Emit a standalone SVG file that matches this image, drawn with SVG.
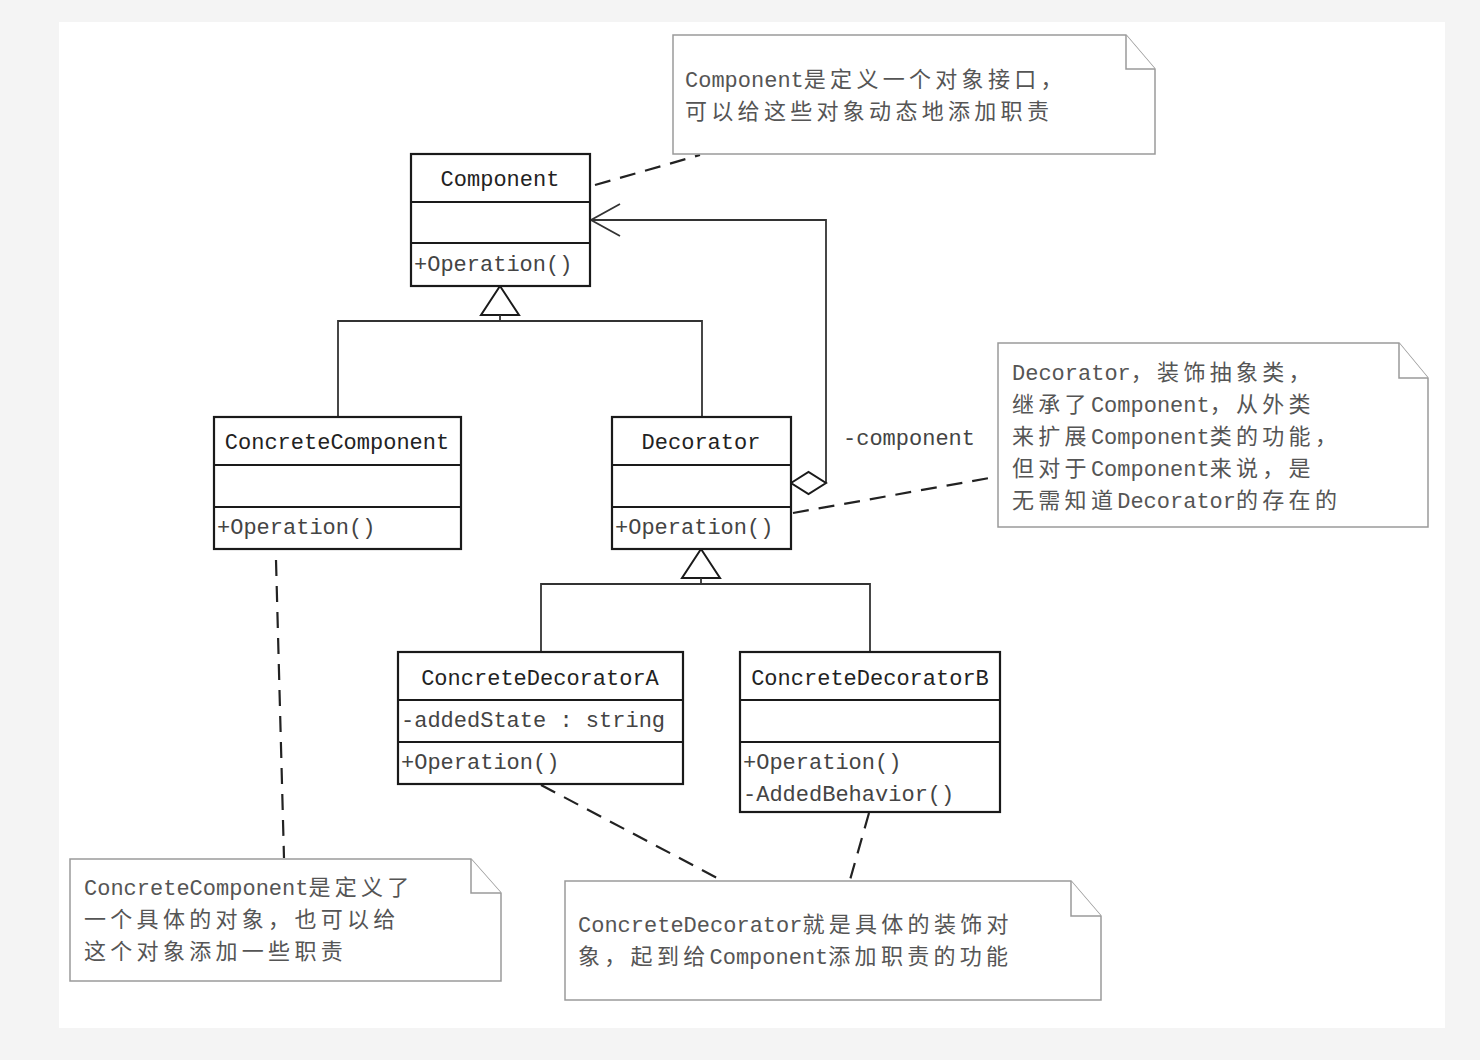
<svg xmlns="http://www.w3.org/2000/svg" width="1480" height="1060" viewBox="0 0 1480 1060">
<style>
.box{fill:#fff;stroke:#1a1a1a;stroke-width:2.2}
.div{stroke:#1a1a1a;stroke-width:2}
.line{fill:none;stroke:#333;stroke-width:1.8}
.dash{fill:none;stroke:#222;stroke-width:2.2;stroke-dasharray:16 10}
.note{fill:#fff;stroke:#9a9a9a;stroke-width:1.5}
.t{font-family:"Liberation Mono",monospace;font-size:22px;fill:#333}
.name{fill:#222;text-anchor:middle}
.mem{fill:#444}
.nt{fill:#555}
.c{font-family:"Noto Sans CJK SC",sans-serif;font-size:22px;letter-spacing:4.3px;fill:#555}
</style>
<rect x="0" y="0" width="1480" height="1060" fill="#f4f4f4"/>
<rect x="59" y="22" width="1386" height="1006" fill="#fff"/>

<g id="connectors">
  <line class="dash" x1="595" y1="185" x2="700" y2="155"/>
  <polyline class="line" points="826,483 826,220 591,220"/>
  <polyline class="line" points="620,204 591,220 620,236" stroke-width="2"/>
  <polygon points="500,286 481,315 519,315" fill="#fff" stroke="#1a1a1a" stroke-width="2"/>
  <polyline class="line" points="500,315 500,321"/>
  <polyline class="line" points="338,417 338,321 702,321 702,417"/>
  <polygon points="791,483 808.5,472 826,483 808.5,494" fill="#fff" stroke="#1a1a1a" stroke-width="2"/>
  <text class="t mem" x="843" y="445">-component</text>
  <line class="dash" x1="793" y1="513" x2="995" y2="477"/>
  <polygon points="701,549 682,578 720,578" fill="#fff" stroke="#1a1a1a" stroke-width="2"/>
  <polyline class="line" points="701,578 701,584"/>
  <polyline class="line" points="541,652 541,584 870,584 870,652"/>
  <line class="dash" x1="276" y1="560" x2="284" y2="858"/>
  <line class="dash" x1="541" y1="785" x2="721" y2="880"/>
  <line class="dash" x1="869" y1="813" x2="850" y2="880"/>
</g>

<g id="note-component">
  <path class="note" d="M673,35 H1126 L1155,69 V154 H673 Z"/>
  <path class="note" d="M1126,35 V69 H1155" fill="none"/>
  <text class="t nt" x="685" y="87">Component</text>
  <text class="c" x="803.8" y="87">是定义一个对象接口，</text>
  <text class="c" x="685" y="119">可以给这些对象动态地添加职责</text>
</g>

<g id="component">
  <rect class="box" x="411" y="154" width="179" height="132"/>
  <line class="div" x1="411" y1="202" x2="590" y2="202"/>
  <line class="div" x1="411" y1="243" x2="590" y2="243"/>
  <text class="t name" x="500" y="186">Component</text>
  <text class="t mem" x="414" y="271">+Operation()</text>
</g>

<g id="concrete-component">
  <rect class="box" x="214" y="417" width="247" height="132"/>
  <line class="div" x1="214" y1="465" x2="461" y2="465"/>
  <line class="div" x1="214" y1="507" x2="461" y2="507"/>
  <text class="t name" x="337" y="449">ConcreteComponent</text>
  <text class="t mem" x="217" y="534">+Operation()</text>
</g>

<g id="decorator">
  <rect class="box" x="612" y="417" width="179" height="132"/>
  <line class="div" x1="612" y1="465" x2="791" y2="465"/>
  <line class="div" x1="612" y1="507" x2="791" y2="507"/>
  <text class="t name" x="701" y="449">Decorator</text>
  <text class="t mem" x="615" y="534">+Operation()</text>
</g>

<g id="note-decorator">
  <path class="note" d="M998,343 H1399 L1428,378 V527 H998 Z"/>
  <path class="note" d="M1399,343 V378 H1428" fill="none"/>
  <text class="t nt" x="1012" y="380">Decorator</text>
  <text class="c" x="1130.8" y="380">，装饰抽象类，</text>
  <text class="c" x="1012" y="412">继承了</text>
  <text class="t nt" x="1090.9" y="412">Component</text>
  <text class="c" x="1209.7" y="412">，从外类</text>
  <text class="c" x="1012" y="444">来扩展</text>
  <text class="t nt" x="1090.9" y="444">Component</text>
  <text class="c" x="1209.7" y="444">类的功能，</text>
  <text class="c" x="1012" y="476">但对于</text>
  <text class="t nt" x="1090.9" y="476">Component</text>
  <text class="c" x="1209.7" y="476">来说，是</text>
  <text class="c" x="1012" y="508">无需知道</text>
  <text class="t nt" x="1117.2" y="508">Decorator</text>
  <text class="c" x="1236" y="508">的存在的</text>
</g>

<g id="concrete-decorator-a">
  <rect class="box" x="398" y="652" width="285" height="132"/>
  <line class="div" x1="398" y1="700" x2="683" y2="700"/>
  <line class="div" x1="398" y1="742" x2="683" y2="742"/>
  <text class="t name" x="540" y="685">ConcreteDecoratorA</text>
  <text class="t mem" x="401" y="727">-addedState : string</text>
  <text class="t mem" x="401" y="769">+Operation()</text>
</g>

<g id="concrete-decorator-b">
  <rect class="box" x="740" y="652" width="260" height="160"/>
  <line class="div" x1="740" y1="700" x2="1000" y2="700"/>
  <line class="div" x1="740" y1="742" x2="1000" y2="742"/>
  <text class="t name" x="870" y="685">ConcreteDecoratorB</text>
  <text class="t mem" x="743" y="769">+Operation()</text>
  <text class="t mem" x="743" y="801">-AddedBehavior()</text>
</g>

<g id="note-concrete-component">
  <path class="note" d="M70,859 H471 L501,893 V981 H70 Z"/>
  <path class="note" d="M471,859 V893 H501" fill="none"/>
  <text class="t nt" x="84" y="895">ConcreteComponent</text>
  <text class="c" x="308.4" y="895">是定义了</text>
  <text class="c" x="84" y="927">一个具体的对象，也可以给</text>
  <text class="c" x="84" y="959">这个对象添加一些职责</text>
</g>

<g id="note-concrete-decorator">
  <path class="note" d="M565,881 H1071 L1101,916 V1000 H565 Z"/>
  <path class="note" d="M1071,881 V916 H1101" fill="none"/>
  <text class="t nt" x="578" y="932">ConcreteDecorator</text>
  <text class="c" x="802.4" y="932">就是具体的装饰对</text>
  <text class="c" x="578" y="964">象，起到给</text>
  <text class="t nt" x="709.5" y="964">Component</text>
  <text class="c" x="828.3" y="964">添加职责的功能</text>
</g>
</svg>
